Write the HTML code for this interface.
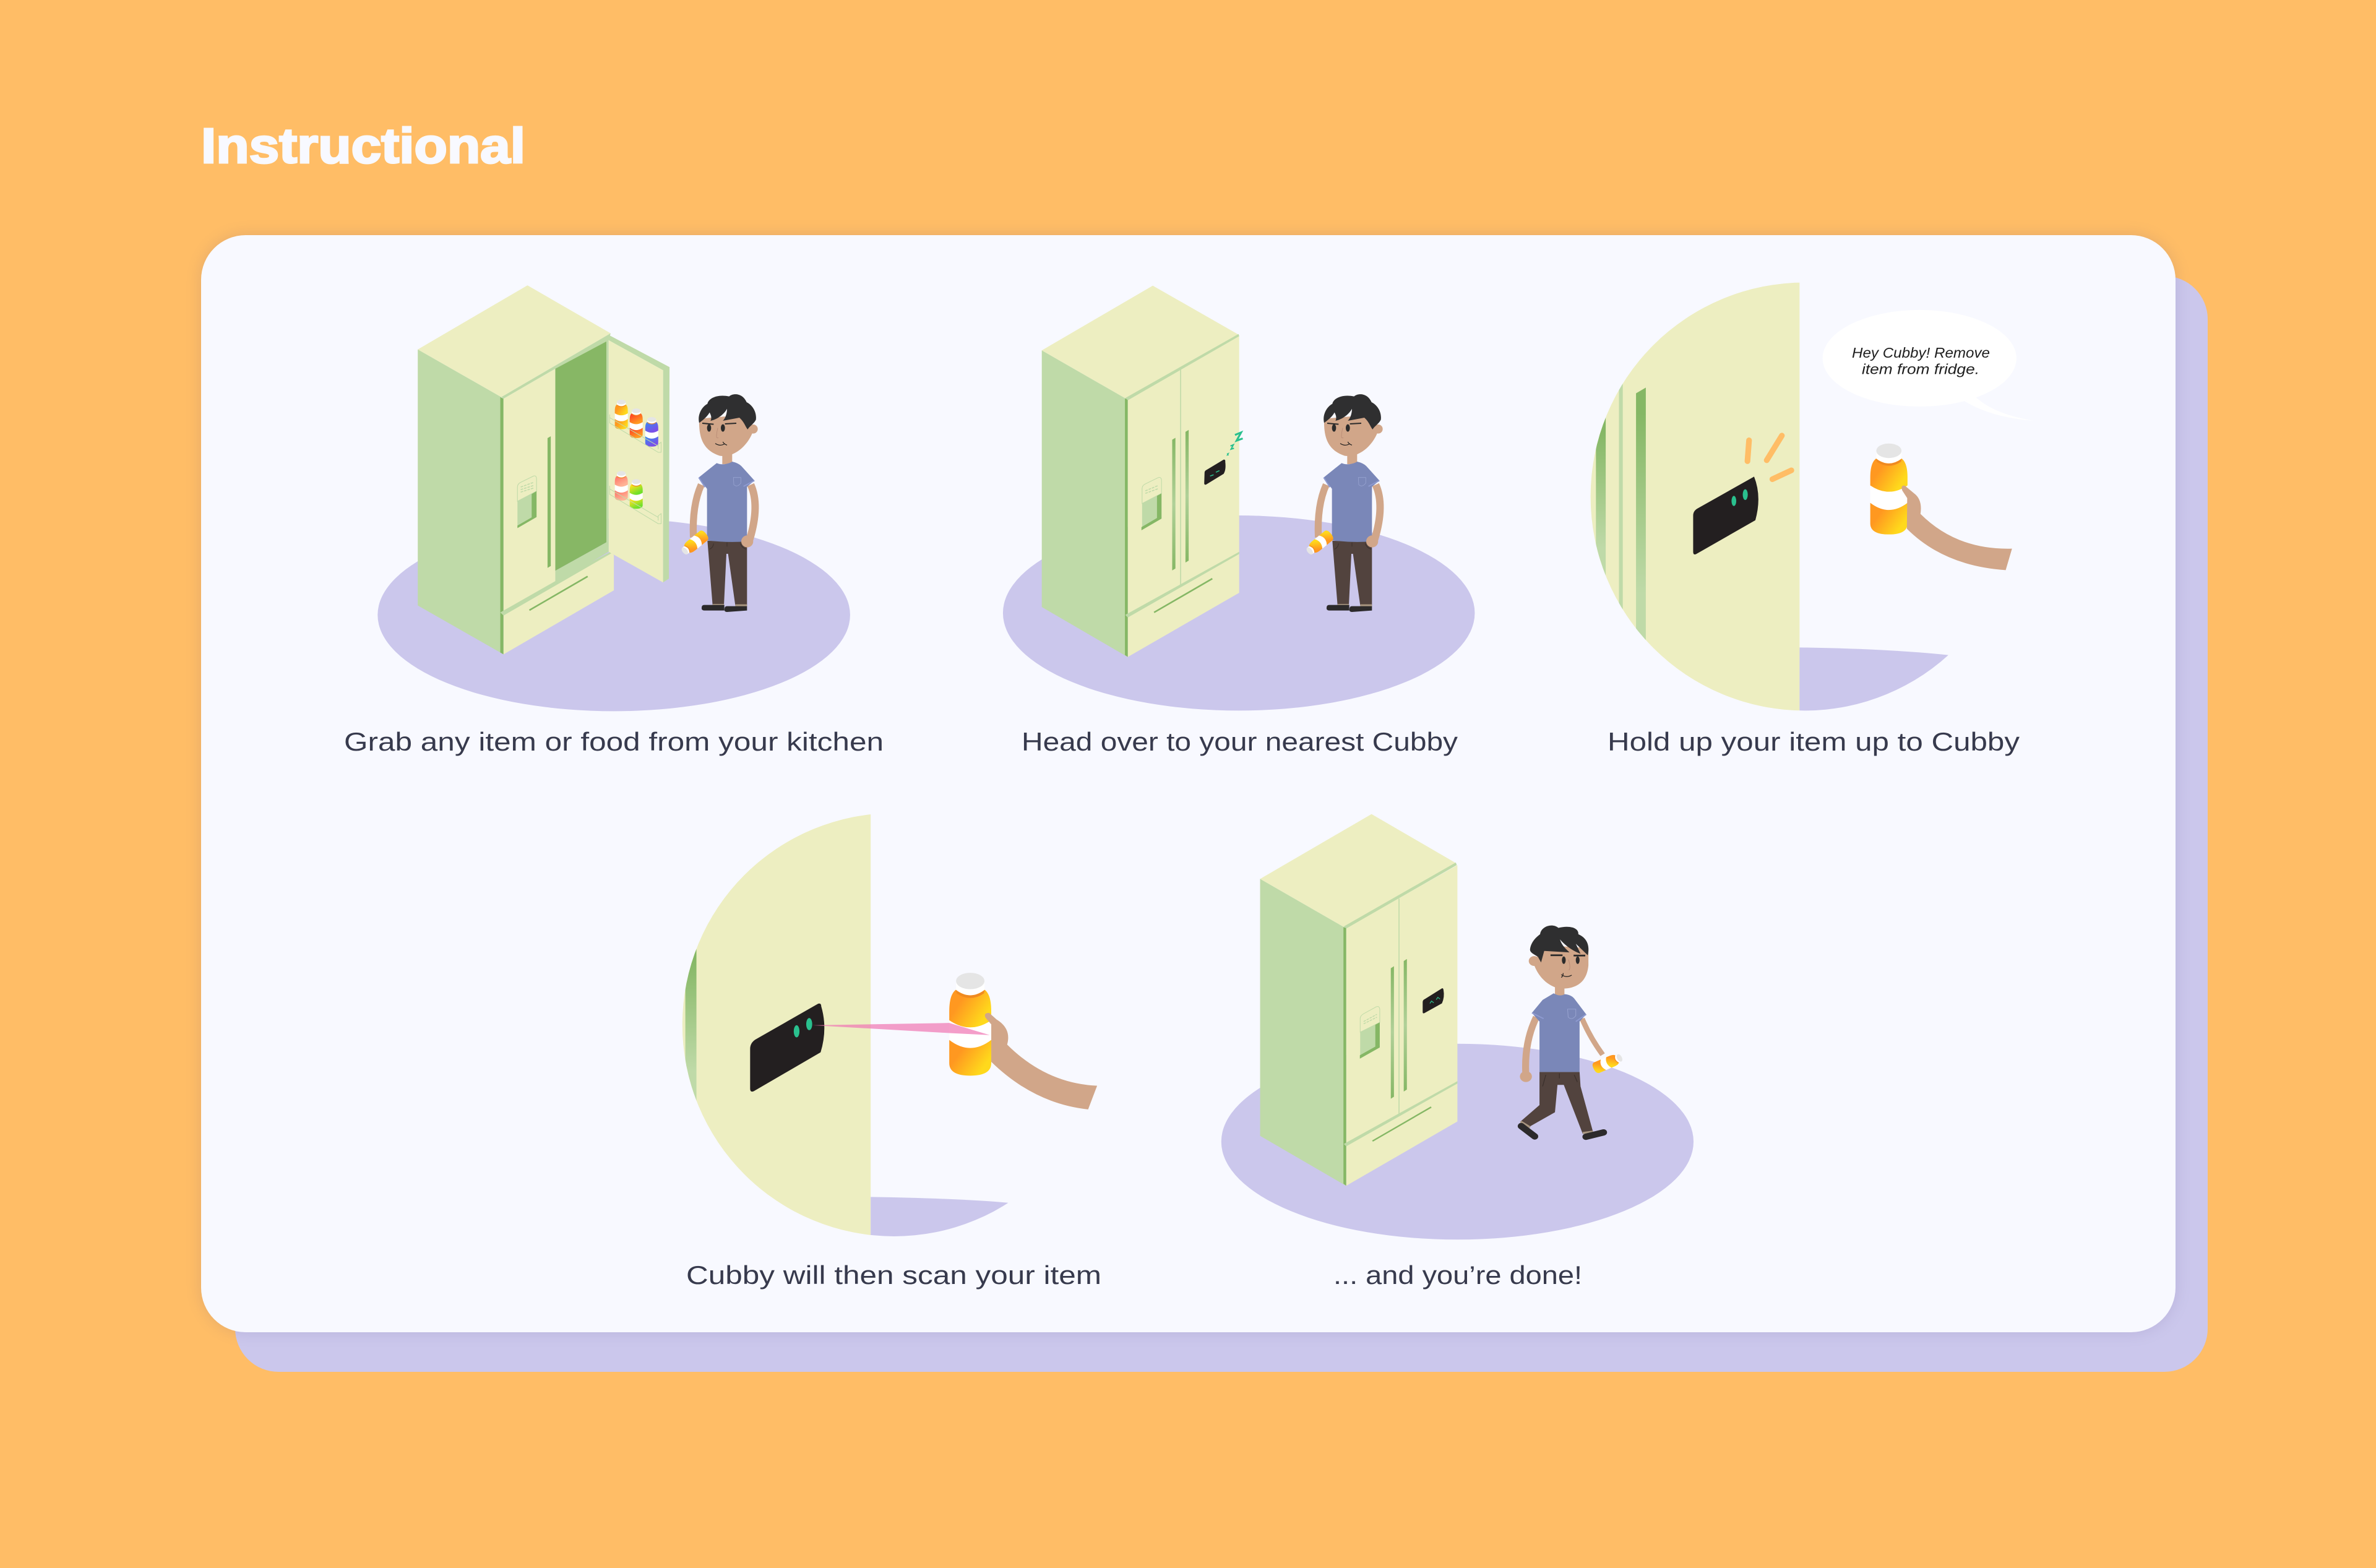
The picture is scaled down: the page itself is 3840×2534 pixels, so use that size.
<!DOCTYPE html>
<html><head><meta charset="utf-8"><style>html,body{margin:0;padding:0;background:#FFBD66}svg{display:block}</style></head><body>
<svg xmlns="http://www.w3.org/2000/svg" width="3840" height="2534" viewBox="0 0 3840 2534" font-family="'Liberation Sans',sans-serif">
<defs>
<filter id="blur" x="-5%" y="-5%" width="110%" height="110%"><feGaussianBlur stdDeviation="13"/></filter>
<linearGradient id="gO" x1="0" y1="0.2" x2="1" y2="0.8"><stop offset="0.25" stop-color="#FF9820"/><stop offset="0.85" stop-color="#FFD91C"/></linearGradient>
<linearGradient id="gR" x1="0" y1="0" x2="0.6" y2="1"><stop offset="0.1" stop-color="#FF3C24"/><stop offset="0.9" stop-color="#FF9A22"/></linearGradient>
<linearGradient id="gB" x1="0" y1="0" x2="0.6" y2="1"><stop offset="0.1" stop-color="#3C86F2"/><stop offset="0.9" stop-color="#7A50E8"/></linearGradient>
<linearGradient id="gP" x1="0" y1="0" x2="0.6" y2="1"><stop offset="0.1" stop-color="#FF7468"/><stop offset="0.9" stop-color="#FFB396"/></linearGradient>
<linearGradient id="gL" x1="0" y1="0" x2="0.6" y2="1"><stop offset="0.15" stop-color="#FFE21C"/><stop offset="0.9" stop-color="#70E02C"/></linearGradient>
<linearGradient id="gH" x1="0" y1="0" x2="0" y2="1"><stop offset="0" stop-color="#85B765"/><stop offset="0.5" stop-color="#B0D098"/><stop offset="1" stop-color="#85B765"/></linearGradient>
<linearGradient id="gS" x1="0" y1="0" x2="0" y2="1"><stop offset="0.1" stop-color="#85B765"/><stop offset="0.8" stop-color="#BFDAA8"/></linearGradient>
<g id="bottle">
<path d="M-59,-30 C-59,-68 -50,-85 -38,-92 L38,-92 C50,-85 59,-68 59,-30 V-5 Q0,35 -59,-5 Z"/>
<path d="M-59,-5 Q0,35 59,-5 V50 Q0,95 -59,50 Z" fill="#fff"/>
<path d="M-59,50 Q0,95 59,50 V115 Q59,150 0,150 Q-59,150 -59,115 Z"/>
<path d="M-41,-90 Q0,-60 41,-90 L38,-80 Q0,-55 -38,-80 Z" fill="#F08A20"/>
<path d="M-40,-115 V-90 Q0,-60 40,-90 V-115 Z" fill="#fff"/>
<ellipse cx="0" cy="-115" rx="40" ry="23" fill="#E5E5E5"/>
</g>
<g id="person">
<path d="M160,490 Q115,590 122,745" fill="none" stroke="#D1A689" stroke-width="34"/>
<path d="M400,490 Q445,590 395,755" fill="none" stroke="#D1A689" stroke-width="36"/>
<rect x="262" y="340" width="48" height="50" fill="#D1A689"/>
<path d="M190,762 L382,765 V1075 H325 L290,825 H282 L270,1075 H215 Z" fill="#52433E"/>
<path d="M215,1068 H270 V1080 H215 Z M325,1070 H382 V1082 H325 Z" fill="#A89680"/>
<path d="M175,1073 H272 V1100 H175 Q160,1100 162,1086 Q162,1073 175,1073 Z M285,1079 H382 V1100 L285,1107 Q270,1107 273,1093 Q273,1079 285,1079 Z" fill="#2C2A2B"/>
<path d="M220,775 Q218,795 200,803 M285,770 V790 M350,775 Q355,795 378,803" fill="none" stroke="#3B302C" stroke-width="3"/>
<path d="M235,385 Q258,395 285,388 Q300,385 310,378 Q340,385 355,400 L418,470 L382,500 V765 Q285,772 188,760 V510 L148,455 Z" fill="#7A87B8"/>
<path d="M148,455 L178,502 M365,498 L418,470" fill="none" stroke="#8E9AD0" stroke-width="6"/>
<path d="M316,455 H352 V482 Q335,505 318,490 Z" fill="none" stroke="#98A3D0" stroke-width="2.5"/>
<circle cx="383" cy="765" r="29" fill="#D1A689"/>
<path d="M150,170 C148,250 160,320 250,350 C320,360 390,300 415,220 L385,150 Z" fill="#D1A689"/>
<circle cx="412" cy="220" r="22" fill="#D1A689"/>
<path d="M150,190 C140,150 165,110 190,98 C195,70 240,50 295,62 C315,45 360,45 380,90 C410,105 430,140 425,175 C415,195 395,205 385,222 C372,205 368,185 345,165 L265,180 C285,160 285,125 285,122 C270,150 235,175 205,180 C215,160 200,140 200,140 C190,160 165,180 150,190 Z" fill="#2F2F30"/>
<ellipse cx="198" cy="215" rx="10" ry="18" fill="#2B2B2B"/><ellipse cx="265" cy="215" rx="10" ry="18" fill="#2B2B2B"/>
<path d="M165,192 L220,197 M275,195 L330,192" stroke="#2B2B2B" stroke-width="6" fill="none"/>
<path d="M240,215 Q232,250 235,262 Q240,265 243,262" stroke="#B88A75" stroke-width="2.5" fill="none"/>
<path d="M228,290 Q250,305 272,293 M265,282 Q270,293 285,298" stroke="#1E1E1E" stroke-width="3.5" fill="none"/>
<use href="#bottle" fill="url(#gO)" transform="translate(125,775) rotate(-129) scale(0.5)"/>
</g>
<clipPath id="c3"><circle cx="738" cy="730" r="678"/></clipPath>
<clipPath id="c4"><ellipse cx="753" cy="786" rx="706" ry="734.5"/></clipPath>
</defs>
<rect width="3840" height="2534" fill="#FFBD66"/>
<rect x="380" y="446" width="3188" height="1771" rx="70" fill="#CBC7EC"/>
<rect x="325" y="380" width="3191" height="1773" rx="72" fill="#5A4A80" opacity="0.16" filter="url(#blur)"/>
<rect x="325" y="380" width="3191" height="1773" rx="72" fill="#F8F9FF"/>
<text x="325" y="263" font-size="80" font-weight="700" fill="#F8F9FF" stroke="#F8F9FF" stroke-width="3" textLength="524" lengthAdjust="spacingAndGlyphs">Instructional</text>

<!-- Panel 1 -->
<g transform="translate(580,430) scale(0.523,0.5102)">
<ellipse cx="788" cy="1105" rx="730" ry="305" fill="#CBC7EC"/>
<path d="M182,264 L521,61 L778,213 L440,415 Z" fill="#EDEEC1"/>
<path d="M182,264 L440,415 L447,1230 L182,1075 Z" fill="#BFDAA8"/>
<path d="M437,415 L447,420 V1230 L437,1224 Z" fill="#85B765"/>
<path d="M447,420 L607,325 V1005 L447,1100 Z" fill="#EDEEC1"/>
<path d="M607,322 L765,232 V875 L607,965 Z" fill="#87B765"/>
<path d="M607,965 L765,875 L772,905 L607,1005 Z" fill="#BFDAA8"/>
<path d="M765,232 H772 V905 H765 Z" fill="#BFDAA8"/>
<path d="M440,415 L778,213 L772,235 L607,325 L447,420 Z" fill="#BFDAA8"/>
<path d="M447,1105 L778,907 L788,915 V1027 L447,1230 Z" fill="#EDEEC1"/>
<path d="M437,1097 L607,998 L778,905 L780,910 L447,1107 Z" fill="#BFDAA8"/>
<path d="M527,1090 L707,983" stroke="#85B765" stroke-width="5"/>
<path d="M583,545 L593,539 V950 L583,956 Z" fill="#85B765"/>
<path d="M490,700 Q490,690 500,685 L540,665 Q549,662 549,675 V713 L490,745 Z" fill="#EDEEC1" stroke="#BFDAA8" stroke-width="2"/>
<path d="M490,745 L549,713 V795 L490,828 Z" fill="#BFDAA8"/>
<path d="M534,722 L549,713 V795 L490,830 V822 L534,796 Z" fill="#85B765"/>
<path d="M500,700 L540,685 M500,708 L540,695 M500,716 L540,703" stroke="#BFDAA8" stroke-width="3" stroke-dasharray="8 3"/>
<path d="M772,218 L960,320 L958,990 L940,1002 V330 L772,235 Z" fill="#BFDAA8"/>
<path d="M772,235 L940,330 V1002 L772,905 Z" fill="#EDEEC1"/>
<use href="#bottle" fill="url(#gO)" transform="translate(811,468) scale(0.34,0.325)"/>
<use href="#bottle" fill="url(#gR)" transform="translate(857,496) scale(0.34,0.325)"/>
<use href="#bottle" fill="url(#gB)" transform="translate(905,523) scale(0.34,0.325)"/>
<use href="#bottle" fill="url(#gP)" transform="translate(811,694) scale(0.34,0.325)"/>
<use href="#bottle" fill="url(#gL)" transform="translate(857,720) scale(0.34,0.325)"/>
<path d="M775,470 V497 L925,590 L934,590 V558 L925,565 V580 M775,480 L925,570" fill="none" stroke="#BFDAA8" stroke-width="2"/>
<path d="M775,696 V723 L925,816 L934,816 V784 L925,791 V806 M775,706 L925,796" fill="none" stroke="#BFDAA8" stroke-width="2"/>
</g>
<use href="#person" transform="translate(1080,620) scale(0.3333)"/>

<!-- Panel 2 -->
<g transform="translate(1600,430) scale(0.523,0.5102)">
<ellipse cx="769" cy="1099" rx="729" ry="309" fill="#CBC7EC"/>
<path d="M160,267 L503,62 L768,217 L420,420 Z" fill="#EDEEC1"/>
<path d="M160,267 L420,420 L425,1238 L160,1080 Z" fill="#BFDAA8"/>
<path d="M417,420 L426,420 V1238 L417,1232 Z" fill="#85B765"/>
<path d="M426,420 L770,220 V1035 L426,1238 Z" fill="#EDEEC1"/>
<path d="M418,418 L768,215 L770,222 L426,425 Z" fill="#BFDAA8"/>
<path d="M589,325 V1015" stroke="#BFDAA8" stroke-width="3"/>
<path d="M418,1105 L770,905 V912 L426,1113 Z" fill="#BFDAA8"/>
<path d="M507,1097 L687,990" stroke="#85B765" stroke-width="5"/>
<path d="M563,550 L573,544 V958 L563,964 Z" fill="url(#gH)"/>
<path d="M604,525 L614,519 V933 L604,939 Z" fill="url(#gH)"/>
<path d="M470,705 Q470,695 480,690 L520,670 Q530,667 530,680 V720 L470,752 Z" fill="#EDEEC1" stroke="#BFDAA8" stroke-width="2"/>
<path d="M470,752 L530,720 V800 L470,835 Z" fill="#BFDAA8"/>
<path d="M516,728 L530,720 V800 L468,837 V827 L516,798 Z" fill="#85B765"/>
<path d="M480,712 L520,695 M480,720 L520,705" stroke="#BFDAA8" stroke-width="3" stroke-dasharray="8 3"/>
<path d="M663,655 Q663,648 670,645 L722,613 Q728,612 727,620 Q730,645 722,658 L668,692 Q662,694 662,688 Z" fill="#231F20"/>
<path d="M680,665 L691,661 M698,653 L709,648" stroke="#2AC08E" stroke-width="3"/>
<path d="M757,535 L776,527 L762,553 L781,546" fill="none" stroke="#2AC08E" stroke-width="6"/>
<path d="M743,570 L752,566 L745,580 L754,577" fill="none" stroke="#2AC08E" stroke-width="4"/>
<path d="M732,595 L737,593 L733,599 L738,598" fill="none" stroke="#2AC08E" stroke-width="2.5"/>
</g>
<use href="#person" transform="translate(2090,620) scale(0.3333)"/>

<!-- Panel 3 -->
<g transform="translate(2540,430) scale(0.5102)">
<g clip-path="url(#c3)">
<rect x="0" y="0" width="722" height="1500" fill="#EDEEC1"/>
<rect x="77" y="470" width="31" height="530" fill="url(#gS)"/>
<rect x="150" y="360" width="12" height="740" fill="#BFDAA8"/>
<path d="M204,403 L235,385 V1200 H204 Z" fill="url(#gS)"/>
<path d="M722,1208 Q1000,1212 1193,1232 L1300,1500 H722 Z" fill="#CBC7EC"/>
</g>
<path d="M385,790 Q385,775 400,767 L578,667 Q603,730 582,805 L395,912 Q385,917 385,905 Z" fill="#231F20"/>
<ellipse cx="514" cy="744" rx="7.5" ry="16" fill="#2AC08E"/><ellipse cx="550" cy="724" rx="8" ry="17" fill="#2AC08E"/>
<path d="M562,552 L557,618 M666,537 L618,615 M696,647 L636,675" stroke="#FFBD66" stroke-width="18" stroke-linecap="round"/>
<ellipse cx="1102" cy="292" rx="307" ry="153" fill="#fff"/>
<path d="M1245,428 L1280,415 Q1340,470 1465,490 Q1330,480 1245,428 Z" fill="#fff"/>
<use href="#bottle" fill="url(#gO)" transform="translate(1005,700)"/>
<path d="M1062,832 Q1180,950 1375,963 L1395,895 Q1220,900 1105,785 Q1112,740 1085,720 L1055,695 Q1040,695 1048,712 L1063,735 Z" fill="#D1A689"/>
</g>
<text x="2993" y="578" font-size="23" font-style="italic" fill="#1E1E1E" textLength="223" lengthAdjust="spacingAndGlyphs">Hey Cubby! Remove</text>
<text x="3009" y="604.5" font-size="23" font-style="italic" fill="#1E1E1E" textLength="190" lengthAdjust="spacingAndGlyphs">item from fridge.</text>

<!-- Panel 4 -->
<g transform="translate(1080,1290) scale(0.4847,0.4656)">
<g clip-path="url(#c4)">
<rect x="0" y="0" width="675" height="1600" fill="#EDEEC1"/>
<rect x="57" y="500" width="37" height="560" fill="url(#gS)"/>
<path d="M675,1384 Q950,1388 1133,1404 L1200,1600 H675 Z" fill="#CBC7EC"/>
</g>
<path d="M273,870 Q273,850 290,838 L500,713 Q510,710 510,722 Q532,800 508,882 L285,1017 Q273,1022 273,1008 Z" fill="#231F20"/>
<ellipse cx="428" cy="809" rx="9.5" ry="21" fill="#2AC08E"/><ellipse cx="470" cy="784" rx="10" ry="21" fill="#2AC08E"/>
<use href="#bottle" fill="url(#gO)" transform="translate(1007,777) scale(1.186,1.24)"/>
<path d="M480,788 L937,780 L1072,822 L937,815 Z" fill="#F078B4" opacity="0.72"/>
<path d="M1077,915 Q1220,1060 1400,1080 L1430,998 Q1260,990 1130,855 Q1145,800 1095,768 L1070,745 Q1050,745 1058,762 L1077,785 Z" fill="#D1A689"/>
</g>

<!-- Panel 5 -->
<g transform="translate(1960,1290) scale(0.5102,0.4656)">
<ellipse cx="775" cy="1192" rx="748" ry="340" fill="#CBC7EC"/>
<path d="M150,280 L503,55 L770,225 L415,447 Z" fill="#EDEEC1"/>
<path d="M150,280 L415,447 L422,1345 L150,1172 Z" fill="#BFDAA8"/>
<path d="M414,447 L423,450 V1345 L414,1338 Z" fill="#85B765"/>
<path d="M423,450 L775,232 V1122 L423,1345 Z" fill="#EDEEC1"/>
<path d="M415,445 L770,223 L773,232 L423,452 Z" fill="#BFDAA8"/>
<path d="M590,348 V1095" stroke="#BFDAA8" stroke-width="3"/>
<path d="M415,1200 L775,982 V990 L423,1208 Z" fill="#BFDAA8"/>
<path d="M506,1190 L692,1072" stroke="#85B765" stroke-width="5"/>
<path d="M564,590 L574,583 V1036 L564,1043 Z" fill="url(#gH)"/>
<path d="M605,565 L615,558 V1011 L605,1018 Z" fill="url(#gH)"/>
<path d="M467,765 Q467,755 478,748 L518,724 Q528,720 529,732 V778 L467,812 Z" fill="#EDEEC1" stroke="#BFDAA8" stroke-width="2"/>
<path d="M467,812 L529,778 V865 L467,903 Z" fill="#BFDAA8"/>
<path d="M515,786 L529,778 V865 L466,904 V892 L515,862 Z" fill="#85B765"/>
<path d="M478,775 L520,750 M478,783 L520,760" stroke="#BFDAA8" stroke-width="3" stroke-dasharray="8 3"/>
<path d="M665,708 Q665,700 672,697 L726,660 Q730,658 731,666 Q735,690 726,712 L670,746 Q665,748 665,742 Z" fill="#231F20"/>
<path d="M688,712 L693,704 L700,710 M708,699 L713,691 L720,697" fill="none" stroke="#2AC08E" stroke-width="2.5"/>
<path d="M1025,760 Q985,850 992,965" fill="none" stroke="#D1A689" stroke-width="22"/>
<path d="M1170,765 Q1195,830 1235,890" fill="none" stroke="#D1A689" stroke-width="17"/>
<rect x="1084" y="650" width="30" height="40" fill="#D1A689"/>
<path d="M1035,950 H1162 L1165,1000 L1205,1160 L1172,1165 L1112,995 H1092 L1084,1090 L1000,1142 L975,1122 L1035,1065 Z" fill="#52433E"/>
<path d="M975,1122 L1005,1142 M1172,1162 L1205,1157" stroke="#A89680" stroke-width="7"/>
<path d="M977,1138 L1020,1174 M1182,1175 L1238,1160" stroke="#2C2A2B" stroke-width="22" stroke-linecap="round"/>
<path d="M1045,1000 L1055,960 M1098,955 V972 M1145,960 L1155,985" fill="none" stroke="#3B302C" stroke-width="2.5"/>
<path d="M1080,677 Q1100,690 1115,680 Q1135,682 1145,695 L1183,750 L1162,775 V950 H1035 V775 L1011,745 L1045,700 Z" fill="#7A87B8"/>
<path d="M1011,745 L1048,765 M1150,775 L1183,750" stroke="#8E9AD0" stroke-width="4"/>
<path d="M1124,732 H1150 V755 Q1138,772 1126,760 Z" fill="none" stroke="#98A3D0" stroke-width="2"/>
<circle cx="992" cy="966" r="19" fill="#D1A689"/>
<path d="M1015,570 C1030,620 1060,650 1095,660 C1150,665 1185,640 1190,580 V520 L1050,510 Z" fill="#D1A689"/>
<circle cx="1018" cy="565" r="17" fill="#D1A689"/>
<path d="M1005,525 C1008,495 1030,478 1037,472 C1040,445 1075,432 1095,450 C1130,440 1160,450 1158,472 C1185,485 1195,510 1188,545 L1150,505 L1165,540 C1140,530 1115,510 1100,490 C1105,510 1120,525 1130,535 L1050,530 L1040,570 L1030,550 C1015,540 1005,535 1005,525 Z" fill="#2F2F30"/>
<ellipse cx="1112" cy="562" rx="6" ry="13" fill="#2B2B2B"/><ellipse cx="1156" cy="562" rx="6" ry="13" fill="#2B2B2B"/>
<path d="M1070,545 H1108 M1143,546 H1180" stroke="#2B2B2B" stroke-width="6"/>
<path d="M1127,560 Q1135,590 1128,597" fill="none" stroke="#B88A75" stroke-width="2"/>
<path d="M1104,612 Q1120,625 1137,614 M1110,607 Q1110,618 1104,622" fill="none" stroke="#1E1E1E" stroke-width="2.5"/>
<use href="#bottle" fill="url(#gO)" transform="translate(1253,918) rotate(65) scale(0.34)"/>
</g>

<g font-size="42" fill="#373A4D">
<text x="556" y="1213" textLength="872" lengthAdjust="spacingAndGlyphs">Grab any item or food from your kitchen</text>
<text x="1651" y="1213" textLength="705" lengthAdjust="spacingAndGlyphs">Head over to your nearest Cubby</text>
<text x="2598" y="1213" textLength="666" lengthAdjust="spacingAndGlyphs">Hold up your item up to Cubby</text>
<text x="1109" y="2075" textLength="671" lengthAdjust="spacingAndGlyphs">Cubby will then scan your item</text>
<text x="2155" y="2075" textLength="402" lengthAdjust="spacingAndGlyphs">... and you’re done!</text>
</g>
</svg>
</body></html>
